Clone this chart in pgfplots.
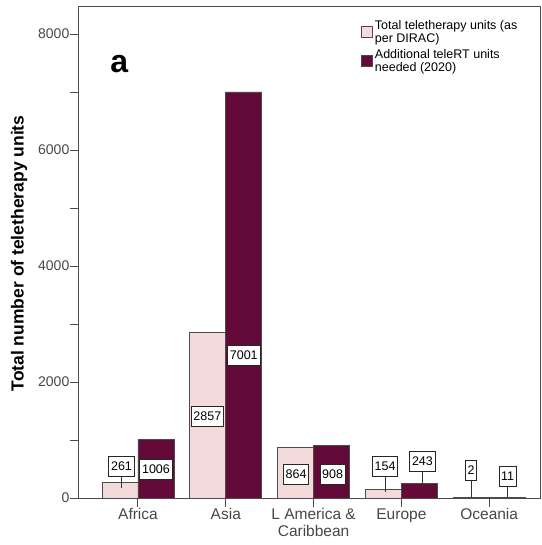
\documentclass[border=0pt]{standalone}
\usepackage{pgfplots}
\pgfplotsset{compat=1.18}
\usepackage{fontspec}
\setmainfont{Liberation Sans}
\definecolor{lightpink}{RGB}{243,219,219}
\definecolor{wine}{RGB}{100,10,56}
\definecolor{axgray}{RGB}{75,75,75}
\begin{document}
\begin{tikzpicture}
\begin{axis}[
  scale only axis, width=462pt, height=491pt,
  xmin=-0.672, xmax=4.59, ymin=0, ymax=8466,
  xtick={0,1,2,3,4},
  xticklabels={Africa, Asia, {L America \&\\Caribbean}, Europe, Oceania},
  xticklabel style={align=center, font=\fontsize{15.5}{17}\selectfont, text=black!72, inner sep=2pt},
  ytick={0,2000,4000,6000,8000}, minor ytick={1000,3000,5000,7000},
  yticklabel style={font=\fontsize{14}{15}\selectfont, text=black!72, inner sep=1pt},
  /pgf/number format/assume math mode=true,
  /pgf/number format/1000 sep={},
  scaled y ticks=false,
  tick align=outside, tick pos=left,
  major tick length=8.5pt, minor tick length=8.5pt,
  axis line style={axgray, line width=1pt},
  every tick/.style={axgray, line width=1pt},
  ylabel={\bfseries Total number of teletherapy units},
  every axis y label/.style={at={(rel axis cs:0,0.498)}, rotate=90, anchor=center, yshift=60pt,
    font=\fontsize{17.5}{18}\selectfont},
  legend style={draw=none, fill=none, at={(rel axis cs:0.61,0.978)}, anchor=north west,
    font=\fontsize{12.5}{13}\selectfont, cells={align=left, anchor=west},
    row sep=2pt, inner sep=0pt},
  legend image code/.code={\draw[#1, draw=axgray, line width=0.9pt] (0pt,-5.5pt) rectangle (11pt,5.5pt);},
  clip=false,
]
\addplot[ybar, bar width=0.41, bar shift=-0.205, fill=lightpink, draw=axgray, line width=0.9pt]
  coordinates {(0,261) (1,2857) (2,864) (3,154) (4,2)};
\addlegendentry{Total teletherapy units (as\\per DIRAC)}
\addplot[ybar, bar width=0.41, bar shift=0.205, fill=wine, draw=axgray, line width=0.9pt]
  coordinates {(0,1006) (1,7001) (2,908) (3,243) (4,11)};
\addlegendentry{Additional teleRT units\\needed (2020)}
% leader lines
\addplot[forget plot, black!80, line width=0.8pt] coordinates {(-0.188,170) (-0.188,552)};
\addplot[forget plot, black!80, line width=0.8pt] coordinates {(2.815,100) (2.815,552)};
\addplot[forget plot, black!80, line width=0.8pt] coordinates {(3.24,190) (3.24,638)};
\addplot[forget plot, black!80, line width=0.8pt] coordinates {(3.795,15) (3.795,483)};
\addplot[forget plot, black!80, line width=0.8pt] coordinates {(4.21,15) (4.21,379)};
% value labels
\addplot[forget plot, draw=none, mark=none, nodes near coords, point meta=explicit symbolic,
  every node near coord/.style={anchor=center, draw=black!85, fill=white, line width=0.8pt,
    font=\fontsize{12.5}{13}\selectfont, inner xsep=2.2pt, minimum height=20pt}]
  coordinates {
    (-0.188,552) [261]
    (0.205,500) [1006]
    (0.79,1414) [2857]
    (1.205,2466) [7001]
    (1.80,405) [864]
    (2.216,405) [908]
    (2.815,552) [154]
    (3.24,638) [243]
    (3.795,483) [2]
    (4.21,379) [11]
  };
\node[font=\fontsize{32}{32}\selectfont\bfseries] at (rel axis cs:0.087,0.884) {a};
\end{axis}
\pgfresetboundingbox
\path[use as bounding box] ([xshift=-79pt,yshift=-47pt]current axis.south west) rectangle ([xshift=1pt,yshift=7pt]current axis.north east);
\end{tikzpicture}
\end{document}
